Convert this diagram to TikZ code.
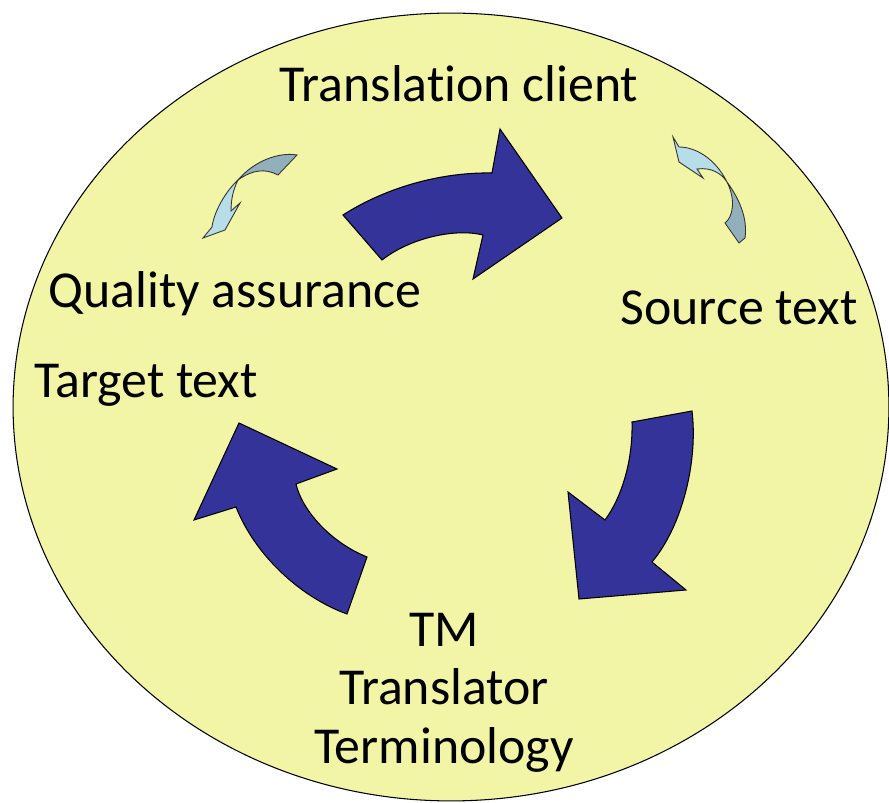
\documentclass[tikz,border=0pt]{standalone}
\usepackage{fontspec}
\setmainfont[Ligatures=NoCommon]{Carlito}
\usepackage{xcolor}
\usepackage{tikz}
\usetikzlibrary{positioning}
\definecolor{discfill}{RGB}{242,244,166}
\definecolor{bigblue}{RGB}{51,51,153}
\definecolor{ribbonlight}{RGB}{183,221,232}
\definecolor{ribbondark}{RGB}{146,176,188}
\tikzstyle{lbl} = [inner sep=0pt, anchor=base, font=\fontsize{29.5}{35}\selectfont]
\tikzstyle{bigarrow} = [fill=bigblue, draw=black, line width=0.6pt, line join=miter]
\tikzstyle{twistlight} = [fill=ribbonlight, draw=black!80, line width=0.5pt]
\tikzstyle{twistdark} = [fill=ribbondark, draw=black!80, line width=0.5pt]

\begin{document}
\begin{tikzpicture}[x=0.02cm, y=-0.02cm]
\useasboundingbox (0,0) rectangle (889,803);
% background disc
\draw[fill=discfill, line width=0.6pt] (451,407) ellipse [x radius=8.76cm, y radius=7.88cm];

% labels
\node (client) [lbl] at (459,102) {Translation client};
\node (source) [lbl] at (739,325) {Source text};
\node (quality) [lbl] at (235,308) {Quality assurance};
\node (target) [lbl] at (146,398) {Target text};
\node (tm) [lbl] at (444,646) {TM};
\node (translator) [below=1.18cm of tm.base, lbl] {Translator};
\node (terminology) [below=1.18cm of translator.base, lbl] {Terminology};

% big arrows
\draw[bigarrow] (343,215) .. controls (385,188) and (440,172) .. (492,173)
  -- (500,129) -- (562,218) -- (473,279) -- (483,235)
  .. controls (455,228) and (410,238) .. (382,260) -- cycle;
\draw[bigarrow] (632,422) -- (692,411) .. controls (698,460) and (683,525) .. (652,562)
  -- (686,590) -- (579,599) -- (568,492) -- (605,520)
  .. controls (622,497) and (633,460) .. (632,422) -- cycle;
\draw[bigarrow] (239,423) -- (337,469) -- (296,484)
  .. controls (302,510) and (330,542) .. (367,557) -- (347,614)
  .. controls (300,597) and (255,555) .. (236,507) -- (194,520) -- cycle;

% small twisted arrows
\draw[twistdark] (297,155) .. controls (280,152) and (255,160) .. (238,180)
  .. controls (252,170) and (265,168) .. (278,175) -- cycle;
\draw[twistlight] (238,180) .. controls (225,192) and (214,212) .. (212,227)
  -- (203,238) -- (225,230) -- (240,203) -- (231,211)
  .. controls (231,200) and (233,190) .. (238,180) -- cycle;
\draw[twistlight] (673,137) -- (679,147) .. controls (695,147) and (715,158) .. (727,182)
  .. controls (722,174) and (712,167) .. (697,169) -- (703,178) -- (679,162) -- cycle;
\draw[twistdark] (727,182) .. controls (738,197) and (748,217) .. (745,238) -- (739,243)
  -- (725,223) .. controls (733,217) and (736,200) .. (727,182) -- cycle;
\end{tikzpicture}
\end{document}
